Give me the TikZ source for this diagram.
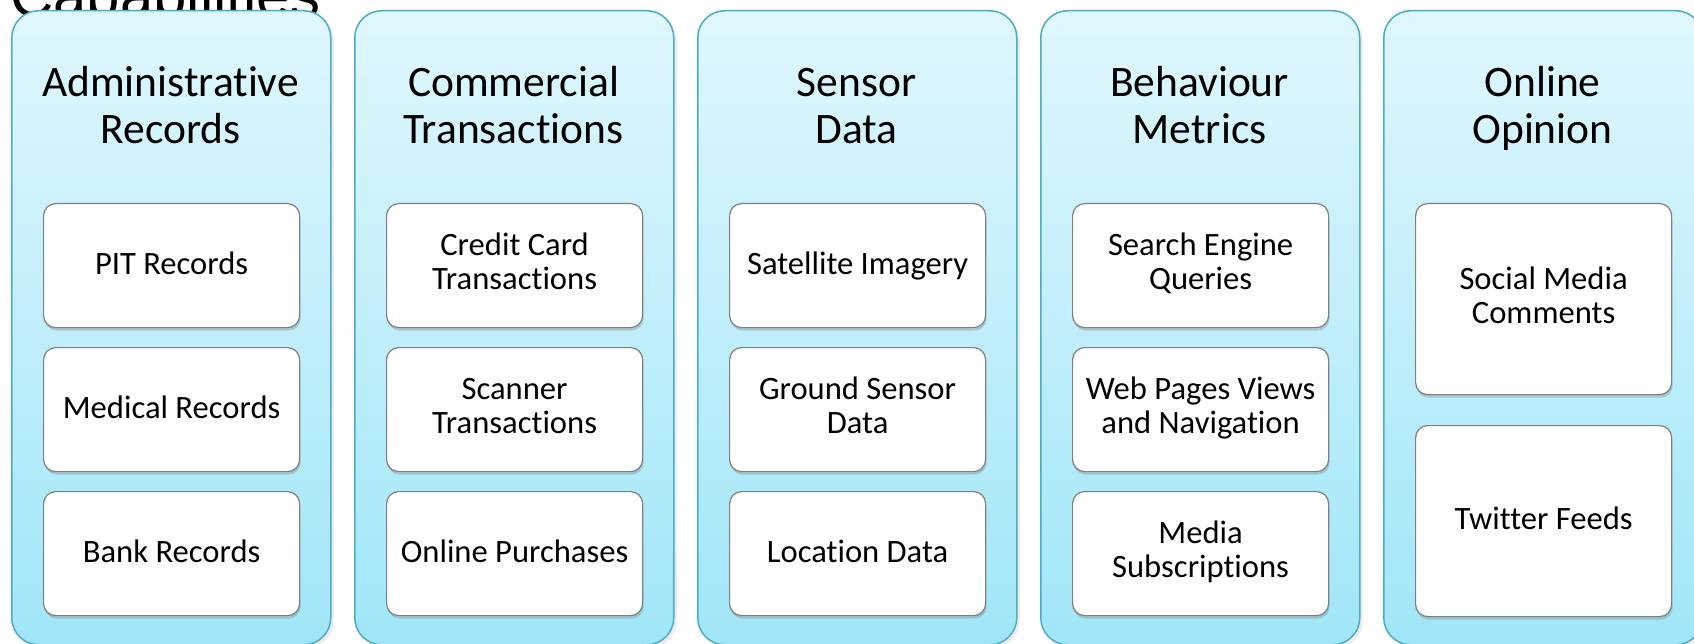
\documentclass[tikz,border=0pt]{standalone}
\usepackage{fontspec}
\setmainfont{Carlito}[Ligatures=NoCommon]
\newfontfamily\titlefont{Liberation Sans}
\usetikzlibrary{shadows}
\definecolor{colborder}{HTML}{4BACC6}
\definecolor{coltop}{HTML}{E0F7FD}
\definecolor{colbottom}{HTML}{A0E6F8}
\definecolor{itemborder}{HTML}{7F7F7F}
\newcommand{\headfont}{\fontsize{43.5}{47}\selectfont}
\newcommand{\itemfont}{\fontsize{32.6}{34}\selectfont}
\newcommand{\itemstrut}{\rule[-8.2pt]{0pt}{34pt}}
\begin{document}
\begin{tikzpicture}[x=1pt,y=-1pt,
  srccol/.style={draw=colborder, line width=1.5pt, rounded corners=27pt,
    top color=coltop, bottom color=colbottom, anchor=north west,
    minimum width=319pt, minimum height=634pt, inner sep=0pt,
    drop shadow={opacity=0.15, shadow xshift=3pt, shadow yshift=-3pt}},
  srchead/.style={anchor=base, align=center, inner sep=0pt, font=\headfont},
  srcitem/.style={draw=itemborder, line width=1.2pt, fill=white,
    rounded corners=12pt, anchor=north west, minimum width=256pt,
    minimum height=124pt, inner sep=0pt, align=center, font=\itemfont,
    execute at begin node=\itemstrut, execute at end node=\itemstrut,
    drop shadow={opacity=0.35, shadow xshift=1pt, shadow yshift=-3pt}},
  srctall/.style={srcitem, minimum height=191pt}]
  \clip (0,0) rectangle (1694,644);
  \node[anchor=base west, inner sep=0pt, font=\titlefont\fontsize{60}{60}\selectfont] (capTitle) at (10,17) {Capabilities};

  \node[srccol] (adminCol) at (11,10) {};
  \node[srccol] (commCol) at (354,10) {};
  \node[srccol] (sensorCol) at (697,10) {};
  \node[srccol] (behavCol) at (1040,10) {};
  \node[srccol] (opinionCol) at (1383,10) {};

  \node[srchead] (adminHead) at (170.5,144) {Administrative\\Records};
  \node[srchead] (commHead) at (513.5,144) {Commercial\\Transactions};
  \node[srchead] (sensorHead) at (856.5,144) {Sensor\\Data};
  \node[srchead] (behavHead) at (1199.5,144) {Behaviour\\Metrics};
  \node[srchead] (opinionHead) at (1542.5,144) {Online\\Opinion};

  \node[srcitem] (pit) at (43,203) {PIT Records};
  \node[srcitem] (medical) at (43,347) {Medical Records};
  \node[srcitem] (bank) at (43,491) {Bank Records};

  \node[srcitem] (credit) at (386,203) {Credit Card\\Transactions};
  \node[srcitem] (scanner) at (386,347) {Scanner\\Transactions};
  \node[srcitem] (purchases) at (386,491) {Online Purchases};

  \node[srcitem] (satellite) at (729,203) {Satellite Imagery};
  \node[srcitem] (ground) at (729,347) {Ground Sensor\\Data};
  \node[srcitem] (location) at (729,491) {Location Data};

  \node[srcitem] (search) at (1072,203) {Search Engine\\Queries};
  \node[srcitem] (webpages) at (1072,347) {Web Pages Views\\and Navigation};
  \node[srcitem] (media) at (1072,491) {Media\\Subscriptions};

  \node[srctall] (social) at (1415,203) {Social Media\\Comments};
  \node[srctall] (twitter) at (1415,425) {Twitter Feeds};
\end{tikzpicture}
\end{document}
